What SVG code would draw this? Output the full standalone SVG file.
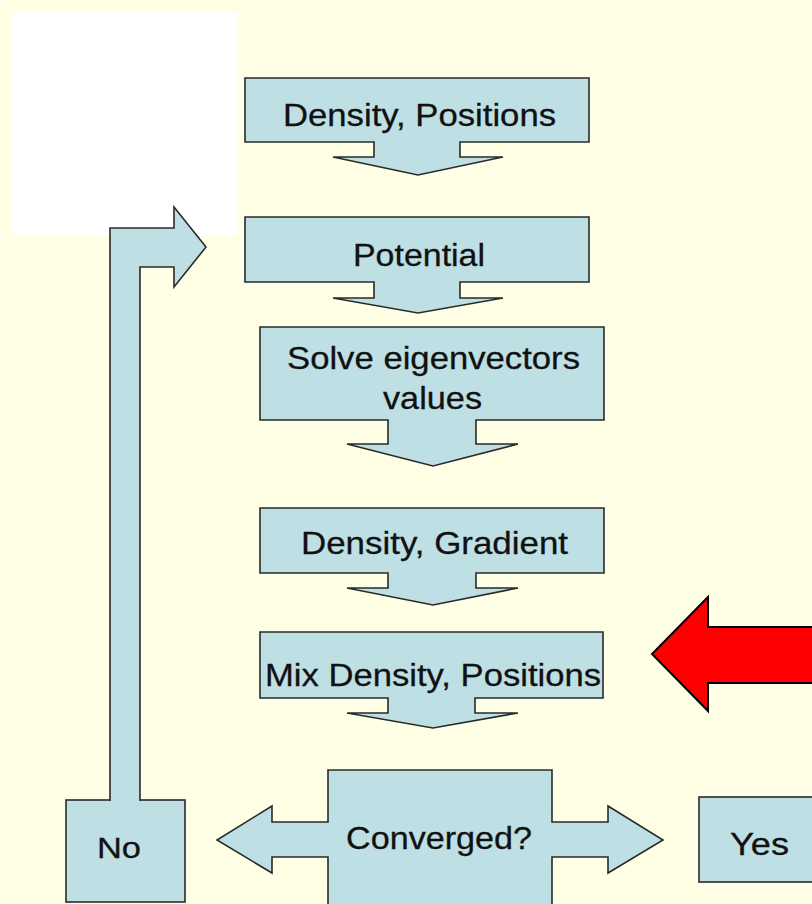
<svg xmlns="http://www.w3.org/2000/svg" width="812" height="904" viewBox="0 0 812 904">
<style>
.box{fill:#BEE0E4;stroke:#2a2a2a;stroke-width:1.6;stroke-linejoin:miter}
.t{font-family:"Liberation Sans",Arial,sans-serif;font-size:32px;fill:#111;stroke:#111;stroke-width:0.3}
</style>
<rect x="0" y="0" width="812" height="904" fill="#FFFFE6"/>
<rect x="12" y="12" width="225" height="223" fill="#FFFFFF"/>
<g id="n1"><path class="box" d="M245,78 H589 V142 H460 V157 H503 L418,175 L333,157 H374 V142 H245 Z"/>
<text class="t" x="283" y="126" textLength="273" lengthAdjust="spacingAndGlyphs">Density, Positions</text></g>
<g id="n2"><path class="box" d="M245,217 H589 V282 H460 V298 H503 L418,313 L333,298 H374 V282 H245 Z"/>
<text class="t" x="353" y="266" textLength="132" lengthAdjust="spacingAndGlyphs">Potential</text></g>
<g id="n3"><path class="box" d="M260,327 H604 V420 H476 V444 H518 L433,466 L347,444 H388 V420 H260 Z"/>
<text class="t" x="287" y="369" textLength="293" lengthAdjust="spacingAndGlyphs">Solve eigenvectors</text>
<text class="t" x="383" y="409" textLength="99" lengthAdjust="spacingAndGlyphs">values</text></g>
<g id="n4"><path class="box" d="M260,508 H604 V573 H476 V588 H518 L433,605 L347,588 H388 V573 H260 Z"/>
<text class="t" x="301" y="554" textLength="267" lengthAdjust="spacingAndGlyphs">Density, Gradient</text></g>
<g id="n5"><path class="box" d="M260,632 H603 V698 H475 V713 H518 L433,728 L347,713 H388 V698 H260 Z"/>
<text class="t" x="265" y="686" textLength="336" lengthAdjust="spacingAndGlyphs">Mix Density, Positions</text></g>
<g id="n6"><path class="box" d="M328,770 H552 V822 H608 V806 L663,840 L608,873 V857 H552 V910 H328 V857 H272 V873 L217,840 L272,806 V822 H328 Z"/>
<text class="t" x="346" y="849" textLength="186" lengthAdjust="spacingAndGlyphs">Converged?</text></g>
<g id="no"><rect class="box" x="66" y="800" width="119" height="102"/>
<text class="t" x="97" y="858" style="font-size:30px" textLength="44" lengthAdjust="spacingAndGlyphs">No</text></g>
<g id="yes"><rect class="box" x="699" y="797" width="130" height="85"/>
<text class="t" x="730" y="855" textLength="59" lengthAdjust="spacingAndGlyphs">Yes</text></g>
<g id="connectors">
<path class="box" d="M110,801 V228 H174 V207 L206,247 L174,287 V267 H140 V801"/>
<path d="M830,627 H708 V597 L652,654 L708,711 V683 H830" fill="#FF0000" stroke="#000" stroke-width="2"/>
</g>
</svg>
